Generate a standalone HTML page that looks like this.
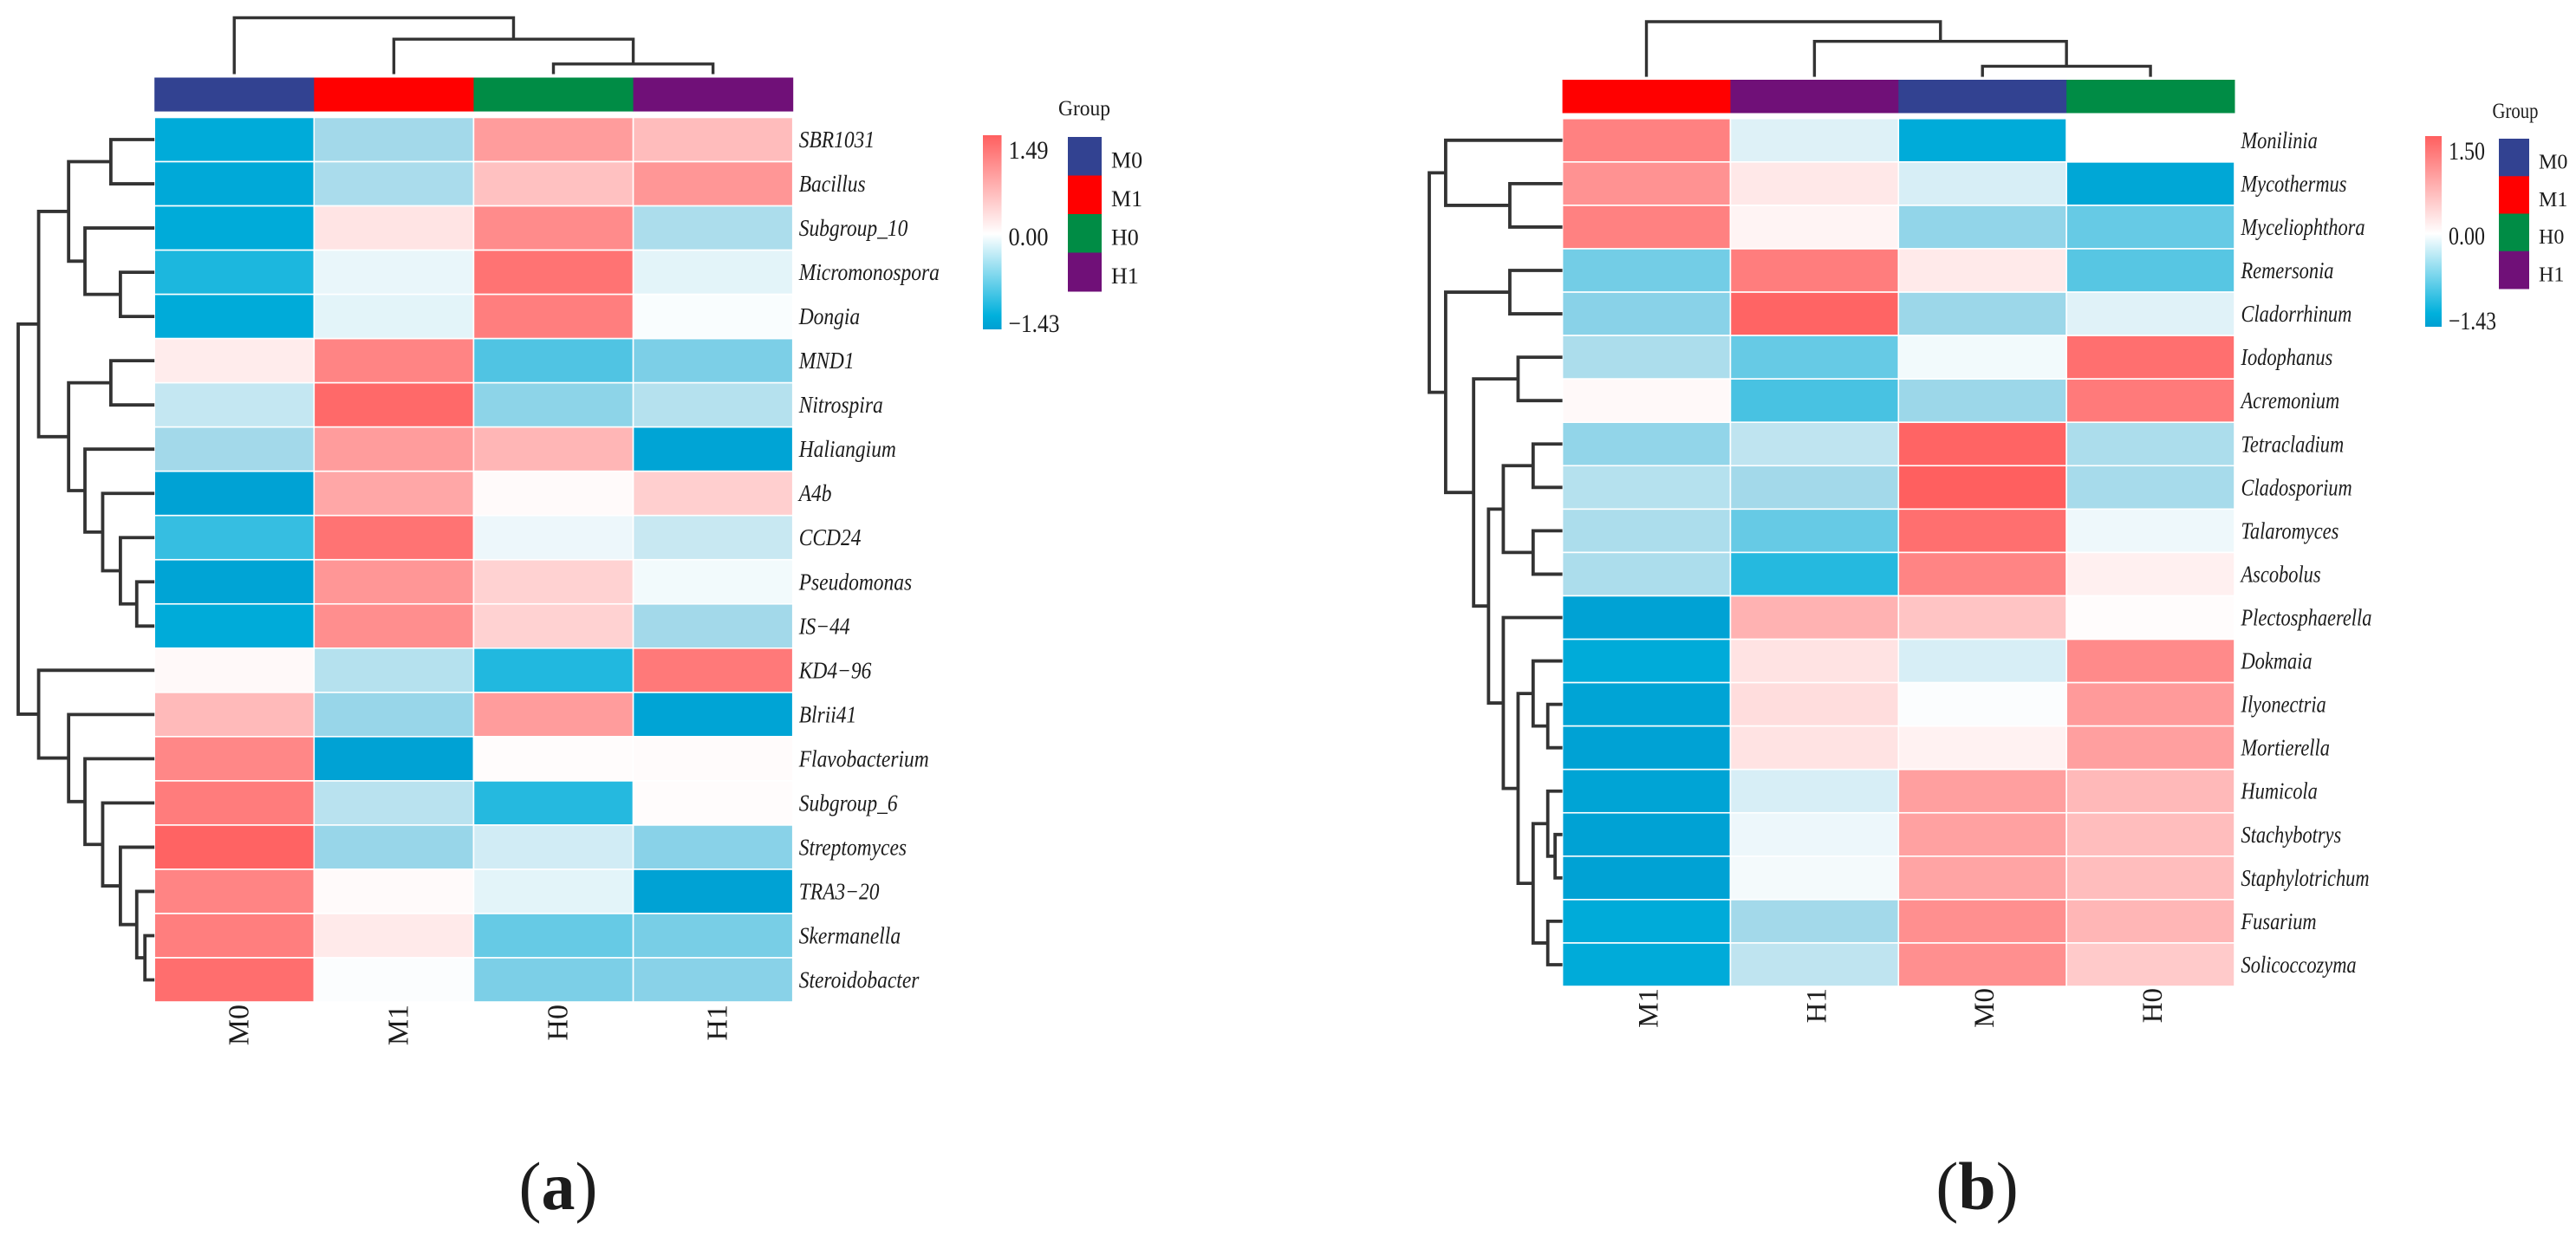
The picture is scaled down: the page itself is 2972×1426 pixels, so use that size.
<!DOCTYPE html>
<html lang="en">
<head>
<meta charset="utf-8">
<title>Clustered heatmaps (a) and (b)</title>
<style>
html,body{margin:0;padding:0;background:#fff;width:2972px;height:1426px;overflow:hidden}
svg{display:block}
text{font-family:"Liberation Serif","Times New Roman",serif;fill:#1c1c1c}
</style>
</head>
<body>
<svg id="chart" xmlns="http://www.w3.org/2000/svg" width="2972" height="1426" viewBox="0 0 2972 1426">
  <defs>
    <linearGradient id="cbGradA" x1="0" y1="0" x2="0" y2="1">
      <stop offset="0" stop-color="#ff5f5f"/>
      <stop offset="0.509" stop-color="#ffffff"/>
      <stop offset="0.93" stop-color="#00b0dc"/>
      <stop offset="1" stop-color="#009fd2"/>
    </linearGradient>
    <linearGradient id="cbGradB" x1="0" y1="0" x2="0" y2="1">
      <stop offset="0" stop-color="#ff5f5f"/>
      <stop offset="0.512" stop-color="#ffffff"/>
      <stop offset="0.93" stop-color="#00b0dc"/>
      <stop offset="1" stop-color="#009fd2"/>
    </linearGradient>
  </defs>
</svg>
<script>
// ---------- Panel (a) data ----------
const aRows = ["SBR1031","Bacillus","Subgroup_10","Micromonospora","Dongia","MND1","Nitrospira","Haliangium","A4b","CCD24","Pseudomonas","IS\u221244","KD4\u221296","Blrii41","Flavobacterium","Subgroup_6","Streptomyces","TRA3\u221220","Skermanella","Steroidobacter"];
const aCols = ["M0","M1","H0","H1"];
const aValues = [
  [-1.30,-0.50, 0.92, 0.62],
  [-1.32,-0.46, 0.58, 0.98],
  [-1.30, 0.25, 1.08,-0.45],
  [-1.12,-0.12, 1.30,-0.15],
  [-1.30,-0.15, 1.20,-0.03],
  [ 0.18, 1.15,-0.88,-0.68],
  [-0.32, 1.40,-0.60,-0.40],
  [-0.50, 0.92, 0.68,-1.38],
  [-1.40, 0.82, 0.05, 0.45],
  [-1.00, 1.30,-0.10,-0.30],
  [-1.38, 0.98, 0.42,-0.07],
  [-1.30, 1.05, 0.42,-0.50],
  [ 0.06,-0.40,-1.10, 1.25],
  [ 0.64,-0.55, 0.92,-1.38],
  [ 1.12,-1.40, 0.03, 0.04],
  [ 1.22,-0.38,-1.08, 0.03],
  [ 1.45,-0.55,-0.25,-0.62],
  [ 1.15, 0.05,-0.15,-1.40],
  [ 1.20, 0.20,-0.78,-0.70],
  [ 1.35,-0.02,-0.68,-0.62]
];
const aRowTree = [10,
  [8.5, [6.3,[3.2,0,1],[5.1,2,[2.5,3,4]]], [6.3,[3.2,5,6],[5.1,7,[3.8,8,[2.5,9,[1.3,10,11]]]]]],
  [8.5, 12, [6.3,13,[5.1,14,[3.8,15,[2.5,16,[1.3,17,[0.7,18,19]]]]]]]
];
const aColTree = [10,0,[6.2,1,[1.8,2,3]]];
const aColorTicks = ["1.49","0.00","\u22121.43"];

// ---------- Panel (b) data ----------
const bRows = ["Monilinia","Mycothermus","Myceliophthora","Remersonia","Cladorrhinum","Iodophanus","Acremonium","Tetracladium","Cladosporium","Talaromyces","Ascobolus","Plectosphaerella","Dokmaia","Ilyonectria","Mortierella","Humicola","Stachybotrys","Staphylotrichum","Fusarium","Solicoccozyma"];
const bCols = ["M1","H1","M0","H0"];
const bValues = [
  [ 1.18,-0.18,-1.30, 0.00],
  [ 1.02, 0.22,-0.22,-1.35],
  [ 1.18, 0.10,-0.58,-0.78],
  [-0.72, 1.22, 0.20,-0.85],
  [-0.62, 1.45,-0.53,-0.17],
  [-0.45,-0.78,-0.07, 1.35],
  [ 0.06,-0.92,-0.53, 1.25],
  [-0.58,-0.35, 1.45,-0.45],
  [-0.40,-0.50, 1.50,-0.48],
  [-0.45,-0.78, 1.35,-0.09],
  [-0.45,-1.08, 1.15, 0.14],
  [-1.40, 0.72, 0.55, 0.03],
  [-1.30, 0.26,-0.22, 1.10],
  [-1.38, 0.32,-0.02, 0.95],
  [-1.40, 0.26, 0.12, 0.90],
  [-1.38,-0.22, 0.90, 0.66],
  [-1.40,-0.10, 0.88, 0.62],
  [-1.40,-0.06, 0.85, 0.62],
  [-1.30,-0.50, 1.05, 0.68],
  [-1.30,-0.35, 1.05, 0.50]
];
const bRowTree = [10,
  [8.77,0,[3.95,1,2]],
  [8.77,[3.95,3,4],[6.67,[3.33,5,6],[5.55,[4.44,[2.2,7,8],[2.2,9,10]],[4.44,11,[3.33,[2.2,12,[1.1,13,14]],[2.2,[1.1,15,[0.55,16,17]],[1.1,18,19]]]]]]]
];
const bColTree = [10,0,[6.43,1,[1.92,2,3]]];
const bColorTicks = ["1.50","0.00","\u22121.43"];

// ---------- Legend data ----------
const groupNames = ["M0","M1","H0","H1"];
const groupColors = {M0:"#324291",M1:"#ff0000",H0:"#008c45",H1:"#701078"};

const NS = "http://www.w3.org/2000/svg";
const svg = document.getElementById("chart");

function mk(parent, tag, attrs, txt){
  const n = document.createElementNS(NS, tag);
  for (const k in attrs) n.setAttribute(k, attrs[k]);
  if (txt !== undefined) n.textContent = txt;
  parent.appendChild(n);
  return n;
}
function mix(a,b,t){ return a.map((v,i)=>Math.round(v+(b[i]-v)*Math.max(0,Math.min(1,t)))); }

function colorFor(v, lo, hi){
  const white=[255,255,255], pale=[163,217,234], deep=[0,176,220], low=[0,159,210], high=[255,95,95];
  let c;
  if (v>=0) c = mix(white,high,v/hi);
  else if (v>-0.5) c = mix(white,pale,v/-0.5);
  else if (v>-1.25) c = mix(pale,deep,(v+0.5)/-0.75);
  else c = mix(deep,low,(v+1.25)/(lo+1.25));
  return "rgb("+c.join(",")+")";
}

function drawPanel(p){
  const g = mk(svg,"g",{});
  
  

  const colW = (p.right-p.left)/p.cols.length;
  const rowH = (p.bottom-p.top)/p.rows.length;
  const xBand = i => p.left + i*colW;
  const yBand = i => p.top + i*rowH;

  // annotation bar
  p.cols.forEach((name,i)=>{
    const r = mk(g,"rect",{x:xBand(i),y:p.barTop,width:colW+0.5,height:p.barBottom-p.barTop,fill:groupColors[name]});
    
    
  });

  // cells
  p.values.forEach((row,ri)=>{
    row.forEach((v,ci)=>{
      const r = mk(g,"rect",{x:xBand(ci),y:yBand(ri),width:colW,height:rowH,fill:colorFor(v,p.lo,p.hi),stroke:"#ffffff","stroke-width":1.6});
      
      
    });
  });

  // row labels
  p.rows.forEach((name,i)=>{
    const tx = p.right+p.labelGap, ty = yBand(i)+rowH/2+p.labelDy;
    const t = mk(g,"text",{transform:"translate("+tx+","+ty+") scale("+p.labelScale+",1)","font-size":p.labelSize,"font-style":"italic"},name);
    
    
  });

  // column labels
  p.cols.forEach((name,i)=>{
    const cx = xBand(i)+colW/2+p.colLabelDx;
    const t = mk(g,"text",{x:0,y:0,"font-size":p.colLabelSize,"text-anchor":"end",transform:"translate("+cx+","+p.colLabelTop+") rotate(-90)"},name);
    
    
  });

  // row dendrogram
  const xH = h => p.left - h/10*(p.left-p.treeLeft);
  function rowNode(node){
    if (typeof node === "number") return {y:yBand(node)+rowH/2,x:p.left};
    const a = rowNode(node[1]), b = rowNode(node[2]);
    const x = xH(node[0]);
    const d = mk(g,"path",{d:"M"+a.x+" "+a.y+"H"+x+"V"+b.y+"H"+b.x,fill:"none",stroke:"#333333","stroke-width":3.8,"stroke-linejoin":"miter"});
    
    
    return {y:(a.y+b.y)/2,x:x};
  }
  rowNode(p.rowTree);

  // column dendrogram
  const yH = h => p.treeBase - h/10*(p.treeBase-p.treeTop);
  function colNode(node){
    if (typeof node === "number") return {x:xBand(node)+colW/2,y:p.treeBase};
    const a = colNode(node[1]), b = colNode(node[2]);
    const y = yH(node[0]);
    const d = mk(g,"path",{d:"M"+a.x+" "+a.y+"V"+y+"H"+b.x+"V"+b.y,fill:"none",stroke:"#333333","stroke-width":3.4,"stroke-linejoin":"miter"});
    
    
    return {x:(a.x+b.x)/2,y:y};
  }
  colNode(p.colTree);

  // colour bar
  const cb = mk(g,"rect",{x:p.cbX,y:p.cbTop,width:p.cbW,height:p.cbBottom-p.cbTop,fill:"url(#"+p.grad+")"});
  
  
  const cbVals = [p.hi,0,p.lo];
  const cbScale = v => v>=0 ? p.cbZero-(v/p.hi)*(p.cbZero-p.cbHiY) : p.cbZero+(v/p.lo)*(p.cbLoY-p.cbZero);
  p.ticks.forEach((label,i)=>{
    const t = mk(g,"text",{x:p.cbX+p.cbW+8,y:cbScale(cbVals[i])+10,"font-size":30,textLength:i===2?p.tickLong:p.tickShort,lengthAdjust:"spacingAndGlyphs"},label);
    
    
  });

  // group legend
  const gt = mk(g,"text",{x:p.swX+19,y:p.groupY,"font-size":25,"text-anchor":"middle",textLength:p.groupLen,lengthAdjust:"spacingAndGlyphs"},"Group");
  
  
  const swH = (p.swBottom-p.swTop)/groupNames.length;
  groupNames.forEach((name,i)=>{
    const r = mk(g,"rect",{x:p.swX,y:p.swTop+i*swH,width:p.swW,height:swH+0.5,fill:groupColors[name]});
    
    
    const t = mk(g,"text",{x:p.swX+p.swW+11,y:p.swTop+i*swH+swH/2+13,"font-size":p.legendSize},name);
    
    
  });

  // caption
  const cap = mk(g,"text",{x:p.capX,y:p.capY,"font-size":78,"text-anchor":"middle"});
  
  
  mk(cap,"tspan",{},"(");
  mk(cap,"tspan",{"font-weight":"bold"},p.id==="panel-a"?"a":"b");
  mk(cap,"tspan",{},")");
}

drawPanel({id:"panel-a",rows:aRows,cols:aCols,values:aValues,rowTree:aRowTree,colTree:aColTree,ticks:aColorTicks,lo:-1.43,hi:1.49,grad:"cbGradA",
  left:178.2,right:914.7,top:135.5,bottom:1156,barTop:89.5,barBottom:128.6,
  labelGap:7,labelDy:9,labelSize:27,labelScale:0.87,colLabelDx:16,colLabelSize:34,colLabelTop:1159,
  treeLeft:21,treeBase:85.5,treeTop:20.5,
  cbX:1134,cbW:21.5,cbTop:156,cbBottom:380,cbHiY:173,cbZero:273,cbLoY:373,tickShort:46,tickLong:59,
  swX:1232,swW:39,swTop:158,swBottom:336,groupY:133,groupLen:60,legendSize:26,capX:644,capY:1395});

drawPanel({id:"panel-b",rows:bRows,cols:bCols,values:bValues,rowTree:bRowTree,colTree:bColTree,ticks:bColorTicks,lo:-1.43,hi:1.50,grad:"cbGradB",
  left:1802.6,right:2578,top:136.8,bottom:1138,barTop:92,barBottom:130.5,
  labelGap:7.5,labelDy:9,labelSize:27,labelScale:0.83,colLabelDx:13,colLabelSize:33,colLabelTop:1140,
  treeLeft:1649,treeBase:88.6,treeTop:25,
  cbX:2798,cbW:19,cbTop:157,cbBottom:377,cbHiY:174,cbZero:272,cbLoY:370,tickShort:42,tickLong:55,
  swX:2883,swW:35,swTop:160,swBottom:333,groupY:136,groupLen:53,legendSize:24,capX:2281,capY:1395});
</script>
</body>
</html>
